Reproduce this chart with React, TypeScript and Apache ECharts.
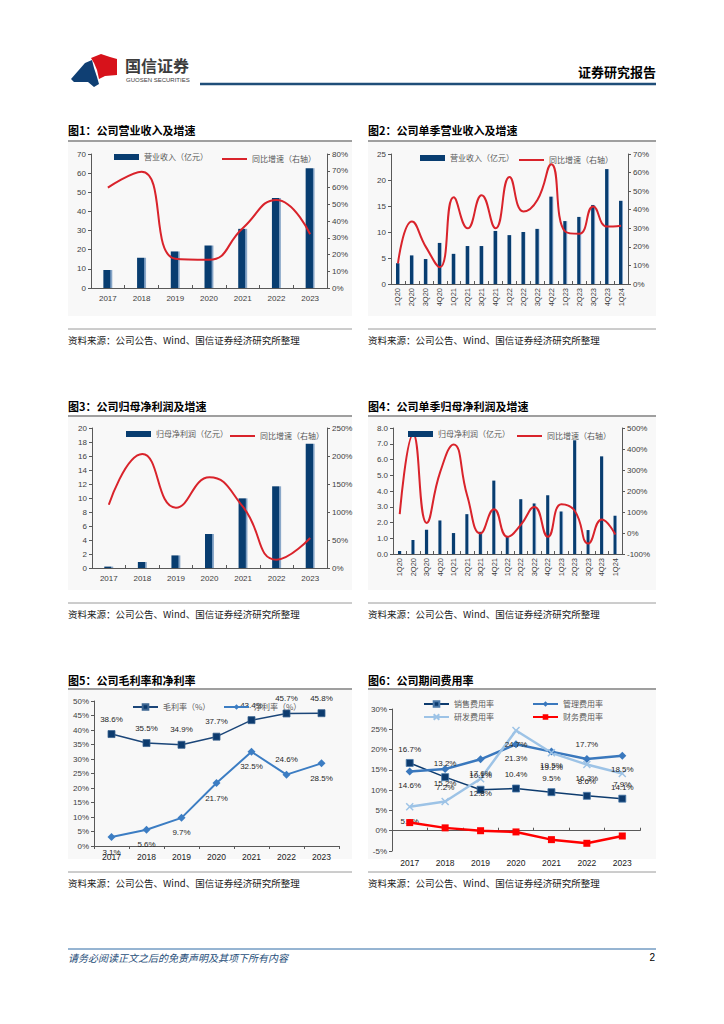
import React, { useEffect, useRef } from 'react';
import * as echarts from 'echarts';

// ---------- data ----------
const years = ['2017', '2018', '2019', '2020', '2021', '2022', '2023'];
const quarters = ['1Q20', '2Q20', '3Q20', '4Q20', '1Q21', '2Q21', '3Q21', '4Q21', '1Q22', '2Q22', '3Q22', '4Q22', '1Q23', '2Q23', '3Q23', '4Q23', '1Q24'];

const revenueAnnual = [9.4, 15.8, 19.1, 22.2, 30.9, 47.0, 62.5];
const revenueAnnualYoY = [59.9, 69.4, 17.5, 16.9, 35.7, 52.6, 32.1];
const revenueQuarterly = [4.0, 5.5, 4.8, 7.9, 5.8, 7.3, 7.3, 10.2, 9.4, 10.0, 10.6, 16.8, 12.1, 12.9, 15.2, 22.1, 16.0];
const revenueQuarterlyYoY = [11.1, 33.6, 20.0, 9.0, 46.7, 30.0, 47.8, 30.0, 57.6, 39.0, 45.2, 64.5, 28.2, 27.0, 41.7, 30.9, 31.4];
const profitAnnual = [0.2, 0.86, 1.8, 4.86, 9.95, 11.67, 17.76];
const profitAnnualYoY = [113, 203.6, 107.7, 161.9, 109, 14.9, 53.6];
const profitQuarterly = [0.19, 0.89, 1.54, 2.13, 1.33, 2.53, 1.41, 4.66, 1.14, 3.48, 3.21, 3.73, 2.7, 7.22, 1.52, 6.2, 2.43];
const profitQuarterlyYoY = [90, 470, 48, 290, 422, 180, -2, 113, -18, 40, 124, -18, 137, 105, -50, 64, -7];
const grossMargin = [38.6, 35.5, 34.9, 37.7, 43.4, 45.7, 45.8];
const netMargin = [3.1, 5.6, 9.7, 21.7, 32.5, 24.6, 28.5];
const netLabelPos = ['bottom', 'bottom', 'bottom', 'bottom', 'bottom', 'top', 'bottom'];
const salesRate = [16.7, 13.2, 10.1, 10.4, 9.5, 8.6, 7.9];
const adminRate = [14.6, 15.2, 17.6, 21.3, 19.5, 17.7, 18.5];
const adminLabelPos = ['bottom', 'bottom', 'bottom', 'bottom', 'bottom', 'top', 'bottom'];
const rdRate = [5.9, 7.2, 12.8, 24.7, 19.2, 16.3, 14.1];
const rdLabelPos = ['bottom', 'top', 'bottom', 'bottom', 'bottom', 'bottom', 'bottom'];
const financeRate = [2.0, 0.7, 0.0, -0.3, -2.2, -3.1, -1.3];

const titles = [
  '图1：公司营业收入及增速',
  '图2：公司单季营业收入及增速',
  '图3：公司归母净利润及增速',
  '图4：公司单季归母净利润及增速',
  '图5：公司毛利率和净利率',
  '图6：公司期间费用率',
];
const sourceText = '资料来源：公司公告、Wind、国信证券经济研究所整理';

// ---------- styles ----------
const RED = '#d9232b';
const NAVY = '#083d70';
const AXIS = '#595959';
const CJK = 'Noto Sans CJK SC';
const LAT = 'Liberation Sans';

const barColor = () =>
  new echarts.graphic.LinearGradient(0, 0, 1, 0, [
    { offset: 0, color: NAVY },
    { offset: 0.76, color: NAVY },
    { offset: 0.8, color: '#6f93bb' },
    { offset: 1, color: '#9ab4d0' },
  ]);

const axisLine = { show: true, onZero: true, lineStyle: { color: AXIS, width: 1 } };
const lbl = { color: '#404040', fontSize: 8, fontFamily: LAT };

function catAxis(gridIndex: number, data: string[], extra: any = {}) {
  return {
    type: 'category',
    gridIndex,
    data,
    axisLine,
    axisTick: { show: true, inside: true, length: 3, lineStyle: { color: AXIS } },
    axisLabel: { ...lbl, margin: 6, interval: 0, ...(extra.axisLabel || {}) },
    splitLine: { show: false },
    ...(extra.axisTick ? { axisTick: extra.axisTick } : {}),
  };
}
function valAxis(gridIndex: number, min: number, max: number, interval: number, position: string, fmt: any) {
  return {
    type: 'value',
    gridIndex,
    min,
    max,
    interval,
    position,
    axisLine,
    axisTick: { show: true, length: 3, lineStyle: { color: AXIS } },
    axisLabel: { ...lbl, margin: 5, formatter: fmt },
    splitLine: { show: false },
  };
}
const pct = (v: number) => v + '%';
const pctLabel = (p: any) => Number(p.value).toFixed(1) + '%';

// ---------- layout (panels) ----------
const panels = [
  { x: 68, w: 284, titleY: 130, lineY: 141, sepY: 329, srcY: 340 },
  { x: 368, w: 288, titleY: 130, lineY: 141, sepY: 329, srcY: 340 },
  { x: 68, w: 284, titleY: 406, lineY: 416, sepY: 603, srcY: 614 },
  { x: 368, w: 288, titleY: 406, lineY: 416, sepY: 603, srcY: 614 },
  { x: 68, w: 284, titleY: 680, lineY: 689, sepY: 872, srcY: 883 },
  { x: 368, w: 288, titleY: 680, lineY: 689, sepY: 872, srcY: 883 },
];

function buildGraphics() {
  const els: any[] = [];
  panels.forEach((p, i) => {
    els.push({ type: 'rect', z: -10, silent: true, shape: { x: p.x, y: p.lineY + 1, width: p.w, height: p.sepY - p.lineY - 14 }, style: { fill: '#f8f8f8' } });
    els.push({ type: 'text', silent: true, x: p.x, y: p.titleY, style: { text: titles[i], fontSize: 11, fontWeight: 'bold', fontFamily: CJK, fill: '#000', verticalAlign: 'middle' } });
    els.push({ type: 'line', silent: true, shape: { x1: p.x, y1: p.lineY, x2: p.x + p.w, y2: p.lineY }, style: { stroke: '#7f7f7f', lineWidth: 1.5 } });
    els.push({ type: 'line', silent: true, shape: { x1: p.x, y1: p.sepY, x2: p.x + p.w, y2: p.sepY }, style: { stroke: '#9a9a9a', lineWidth: 1 } });
    els.push({ type: 'text', silent: true, x: p.x, y: p.srcY, style: { text: sourceText, fontSize: 9.5, fontFamily: CJK, fill: '#1a1a1a', verticalAlign: 'middle' } });
  });
  // header
  els.push({ type: 'polygon', silent: true, shape: { points: [[71, 79], [85, 63], [92, 60], [94, 68], [97, 77], [99, 84], [94, 87], [88, 82], [74, 82]] }, style: { fill: '#0f3f73' } });
  els.push({ type: 'polygon', silent: true, shape: { points: [[91, 58], [101, 54], [110, 57], [117, 59], [117, 75], [105, 76], [99, 79], [97, 70], [94, 63]] }, style: { fill: '#d7121b' } });
  els.push({ type: 'text', silent: true, x: 125, y: 65, style: { text: '国信证券', fontSize: 16, fontWeight: 'bold', fontFamily: CJK, fill: '#3d3d3d', verticalAlign: 'middle' } });
  els.push({ type: 'text', silent: true, x: 126, y: 80, style: { text: 'GUOSEN SECURITIES', fontSize: 6, fontFamily: LAT, fill: '#3d3d3d', verticalAlign: 'middle' } });
  els.push({ type: 'text', silent: true, x: 656, y: 71, style: { text: '证券研究报告', fontSize: 13, fontWeight: 'bold', fontFamily: CJK, fill: '#000', align: 'right', verticalAlign: 'middle' } });
  els.push({ type: 'line', silent: true, shape: { x1: 200, y1: 84, x2: 656, y2: 84 }, style: { stroke: '#1f4e79', lineWidth: 2.5 } });
  // footer
  els.push({ type: 'line', silent: true, shape: { x1: 68, y1: 949, x2: 656, y2: 949 }, style: { stroke: '#2e6aa5', lineWidth: 1 } });
  els.push({ type: 'text', silent: true, x: 68, y: 957, style: { text: '请务必阅读正文之后的免责声明及其项下所有内容', fontSize: 10, fontStyle: 'italic', fontFamily: CJK, fill: '#1f4e79', verticalAlign: 'middle' } });
  els.push({ type: 'text', silent: true, x: 655, y: 957, style: { text: '2', fontSize: 10, fontFamily: LAT, fill: '#000', align: 'right', verticalAlign: 'middle' } });
  return els;
}

const legendBase = {
  padding: 0,
  itemWidth: 25,
  itemGap: 0,
  selectedMode: false,
  textStyle: { fontSize: 8, color: '#595959', fontFamily: CJK },
};
const barLegend = (name: string, left: number, top: number) => ({ ...legendBase, left, top, itemHeight: 6, data: [{ name, icon: 'rect', itemStyle: { color: NAVY } }] });
const lineLegend = (name: string, left: number, top: number) => ({ ...legendBase, left, top: top + 2, itemHeight: 2, data: [{ name, icon: 'rect', itemStyle: { color: RED } }] });

function buildOption(): any {
  const redLine = (name: string, x: number, y: number, data: number[]) => ({
    type: 'line', name, xAxisIndex: x, yAxisIndex: y, data, smooth: true, symbol: 'none',
    lineStyle: { color: RED, width: 2 }, itemStyle: { color: RED }, z: 3,
  });
  const bar = (name: string, x: number, y: number, data: number[], w: number) => ({
    type: 'bar', name, xAxisIndex: x, yAxisIndex: y, data, barWidth: w, itemStyle: { color: barColor() },
  });
  const labelCommon = { show: true, fontSize: 8, color: '#262626', fontFamily: LAT, formatter: pctLabel, distance: 6 };
  const withPos = (vals: number[], pos: string[]) => vals.map((v, i) => ({ value: v, label: { position: pos[i] } }));

  const rotLabel = { axisLabel: { rotate: 90, fontSize: 7.5, margin: 4 } };

  return {
    animation: false,
    textStyle: { fontFamily: LAT },
    graphic: buildGraphics(),
    grid: [
      { left: 91, top: 154, width: 236, height: 134 },
      { left: 391, top: 154, width: 237, height: 130 },
      { left: 92, top: 428, width: 235, height: 140 },
      { left: 393, top: 428, width: 229, height: 126 },
      { left: 94, top: 701, width: 245, height: 145 },
      { left: 392, top: 709, width: 248, height: 142 },
    ],
    xAxis: [
      catAxis(0, years),
      catAxis(1, quarters, rotLabel),
      catAxis(2, years),
      catAxis(3, quarters, rotLabel),
      catAxis(4, years, { axisTick: { show: true, inside: false, length: 3, lineStyle: { color: AXIS } }, axisLabel: { fontSize: 8.5, color: '#1a1a1a' } }),
      catAxis(5, years, { axisLabel: { fontSize: 8.5, color: '#1a1a1a', margin: 7 } }),
    ],
    yAxis: [
      valAxis(0, 0, 70, 10, 'left', null),
      valAxis(0, 0, 80, 10, 'right', pct),
      valAxis(1, 0, 25, 5, 'left', null),
      valAxis(1, 0, 70, 10, 'right', pct),
      valAxis(2, 0, 20, 2, 'left', null),
      valAxis(2, 0, 250, 50, 'right', pct),
      valAxis(3, 0, 8, 1, 'left', (v: number) => v.toFixed(1)),
      valAxis(3, -100, 500, 100, 'right', pct),
      valAxis(4, 0, 50, 5, 'left', pct),
      valAxis(5, -5, 30, 5, 'left', pct),
    ],
    legend: [
      barLegend('营业收入（亿元）', 114, 153),
      lineLegend('同比增速（右轴）', 222, 153),
      barLegend('营业收入（亿元）', 420, 154),
      lineLegend('同比增速（右轴）', 519, 154),
      barLegend('归母净利润（亿元）', 126, 430),
      lineLegend('同比增速（右轴）', 230, 430),
      barLegend('归母净利润（亿元）', 408, 430),
      lineLegend('同比增速（右轴）', 517, 430),
      { ...legendBase, left: 132, top: 703, itemHeight: 7, data: ['毛利率（%）'] },
      { ...legendBase, left: 223, top: 703, itemHeight: 7, data: ['净利率（%）'] },
      { ...legendBase, left: 423, top: 700, itemHeight: 7, data: ['销售费用率'] },
      { ...legendBase, left: 532, top: 700, itemHeight: 7, data: ['管理费用率'] },
      { ...legendBase, left: 423, top: 713, itemHeight: 7, data: ['研发费用率'] },
      { ...legendBase, left: 532, top: 713, itemHeight: 7, data: ['财务费用率'] },
    ],
    series: [
      bar('营业收入（亿元）', 0, 0, revenueAnnual, 9),
      redLine('同比增速（右轴）', 0, 1, revenueAnnualYoY),
      bar('营业收入（亿元）', 1, 2, revenueQuarterly, 4),
      redLine('同比增速（右轴）', 1, 3, revenueQuarterlyYoY),
      bar('归母净利润（亿元）', 2, 4, profitAnnual, 9),
      redLine('同比增速（右轴）', 2, 5, profitAnnualYoY),
      bar('归母净利润（亿元）', 3, 6, profitQuarterly, 3.5),
      redLine('同比增速（右轴）', 3, 7, profitQuarterlyYoY),
      {
        type: 'line', name: '毛利率（%）', xAxisIndex: 4, yAxisIndex: 8, data: grossMargin,
        symbol: 'rect', symbolSize: 7,
        lineStyle: { color: '#1b4679', width: 1.5 },
        itemStyle: { color: '#0d3b6e', borderColor: '#3d6591', borderWidth: 0.8 },
        label: { ...labelCommon, position: 'top', distance: 7 },
      },
      {
        type: 'line', name: '净利率（%）', xAxisIndex: 4, yAxisIndex: 8, data: withPos(netMargin, netLabelPos),
        symbol: 'diamond', symbolSize: 8,
        lineStyle: { color: '#3c7dc3', width: 2 },
        itemStyle: { color: '#3c7dc3' },
        label: { ...labelCommon, distance: 7 },
      },
      {
        type: 'line', name: '销售费用率', xAxisIndex: 5, yAxisIndex: 9, data: salesRate,
        symbol: 'rect', symbolSize: 7,
        lineStyle: { color: '#0d3b6e', width: 1.5 },
        itemStyle: { color: '#0d3b6e', borderColor: '#4a78a8', borderWidth: 0.8 },
        label: { ...labelCommon, position: 'top' },
      },
      {
        type: 'line', name: '管理费用率', xAxisIndex: 5, yAxisIndex: 9, data: withPos(adminRate, adminLabelPos),
        symbol: 'diamond', symbolSize: 8,
        lineStyle: { color: '#3a78bd', width: 2.5 },
        itemStyle: { color: '#3a78bd' },
        label: { ...labelCommon },
      },
      {
        type: 'line', name: '研发费用率', xAxisIndex: 5, yAxisIndex: 9, data: withPos(rdRate, rdLabelPos),
        symbol: 'path://M0,0L10,10M10,0L0,10', symbolSize: 7,
        lineStyle: { color: '#9dc3e6', width: 2.5 },
        itemStyle: { color: '#9dc3e6', borderColor: '#9dc3e6', borderWidth: 1.5 },
        label: { ...labelCommon },
      },
      {
        type: 'line', name: '财务费用率', xAxisIndex: 5, yAxisIndex: 9, data: financeRate,
        symbol: 'rect', symbolSize: 7,
        lineStyle: { color: '#ff0000', width: 2.5 },
        itemStyle: { color: '#ff0000' },
        z: 4,
      },
    ],
  };
}

export default function App() {
  const ref = useRef<HTMLDivElement>(null);
  useEffect(() => {
    const chart = echarts.init(ref.current as HTMLDivElement, null, { renderer: 'svg' });
    chart.setOption(buildOption());
    return () => chart.dispose();
  }, []);
  return (
    <div
      ref={ref}
      style={{ position: 'absolute', left: 0, top: 0, width: 724, height: 1024, background: '#fff' }}
    />
  );
}
